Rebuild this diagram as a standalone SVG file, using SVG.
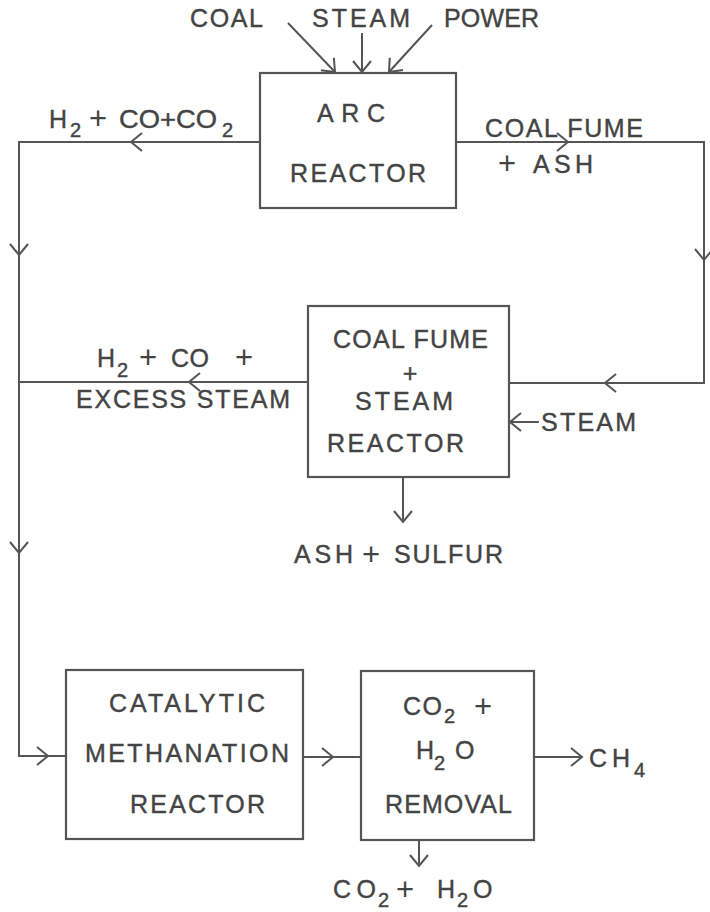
<svg xmlns="http://www.w3.org/2000/svg" xmlns:xlink="http://www.w3.org/1999/xlink" width="710" height="912" viewBox="0 0 710 912">
<style>
.box{fill:#fff;stroke:#555;stroke-width:2.2}
.ln{fill:none;stroke:#555;stroke-width:2}
.t{font-family:"Liberation Sans",Arial,sans-serif;font-size:25px;fill:#444;stroke:#444;stroke-width:0.4}
.s{font-family:"Liberation Sans",Arial,sans-serif;font-size:20px;fill:#444;stroke:#444;stroke-width:0.4}
.p{font-family:"Liberation Sans",Arial,sans-serif;font-size:31px;fill:#444}
</style>
<defs>
<path id="chev" d="M-11,-9 L0,0 L-11,9" fill="none" stroke="#555" stroke-width="2"/>
<marker id="ah" markerUnits="userSpaceOnUse" markerWidth="24" markerHeight="24" refX="12" refY="12" orient="auto" viewBox="0 0 24 24">
<path d="M1,3 L12,12 L1,21" fill="none" stroke="#555" stroke-width="2"/>
</marker>
</defs>
<rect width="710" height="912" fill="#fff"/>

<g id="connectors">
<line class="ln" x1="288" y1="23" x2="335" y2="72" marker-end="url(#ah)"/>
<line class="ln" x1="362" y1="33" x2="362" y2="72" marker-end="url(#ah)"/>
<line class="ln" x1="432" y1="25" x2="389" y2="72" marker-end="url(#ah)"/>
<polyline class="ln" points="260,142 19,142 19,756 66,756"/>
<polyline class="ln" points="456,142 704,142 704,383 509,383"/>
<line class="ln" x1="308" y1="382" x2="19" y2="382"/>
<line class="ln" x1="539" y1="422" x2="510" y2="422" marker-end="url(#ah)"/>
<line class="ln" x1="403" y1="477" x2="403" y2="522" marker-end="url(#ah)"/>
<line class="ln" x1="303" y1="757" x2="362" y2="757"/>
<line class="ln" x1="534" y1="757" x2="582" y2="757" marker-end="url(#ah)"/>
<line class="ln" x1="419" y1="840" x2="419" y2="866" marker-end="url(#ah)"/>
<use xlink:href="#chev" transform="translate(131,142) rotate(180)"/>
<use xlink:href="#chev" transform="translate(19,255) rotate(90)"/>
<use xlink:href="#chev" transform="translate(19,553) rotate(90)"/>
<use xlink:href="#chev" transform="translate(48,756)"/>
<use xlink:href="#chev" transform="translate(568,142)"/>
<use xlink:href="#chev" transform="translate(704,260) rotate(90)"/>
<use xlink:href="#chev" transform="translate(605,383) rotate(180)"/>
<use xlink:href="#chev" transform="translate(189,382) rotate(180)"/>
<use xlink:href="#chev" transform="translate(333,757)"/>
</g>

<g id="inputs">
<text class="t" x="190" y="27" textLength="73" lengthAdjust="spacing">COAL</text>
<text class="t" x="312" y="27" textLength="98" lengthAdjust="spacing">STEAM</text>
<text class="t" x="444" y="27" textLength="95" lengthAdjust="spacing">POWER</text>
</g>

<g id="arc-reactor">
<rect class="box" x="260" y="73" width="196" height="135"/>
<text class="t" x="317" y="122" textLength="68" lengthAdjust="spacing">ARC</text>
<text class="t" x="290" y="182" textLength="136" lengthAdjust="spacing">REACTOR</text>
</g>

<g id="label-h2-co-co2">
<text class="t" x="49" y="128">H</text>
<text class="s" x="70" y="137">2</text>
<text class="p" x="89" y="129">+</text>
<text class="t" x="119" y="128" textLength="98" lengthAdjust="spacingAndGlyphs">CO+CO</text>
<text class="s" x="222" y="137">2</text>
</g>

<g id="label-coal-fume-ash">
<text class="t" x="485" y="137" textLength="158" lengthAdjust="spacing">COAL FUME</text>
<text class="p" x="498" y="174">+</text>
<text class="t" x="533" y="173" textLength="60" lengthAdjust="spacing">ASH</text>
</g>

<g id="steam-reactor">
<rect class="box" x="308" y="306" width="201" height="171"/>
<text class="t" x="333" y="348" textLength="155" lengthAdjust="spacing">COAL FUME</text>
<text class="t" x="410" y="382" text-anchor="middle">+</text>
<text class="t" x="355" y="410" textLength="98" lengthAdjust="spacing">STEAM</text>
<text class="t" x="327" y="452" textLength="137" lengthAdjust="spacing">REACTOR</text>
</g>

<g id="label-h2-co-steam">
<text class="t" x="97" y="367">H</text>
<text class="s" x="117" y="377">2</text>
<text class="p" x="139" y="368">+</text>
<text class="t" x="171" y="367" textLength="38" lengthAdjust="spacing">CO</text>
<text class="p" x="235" y="368">+</text>
<text class="t" x="76" y="408" textLength="214" lengthAdjust="spacing">EXCESS STEAM</text>
</g>

<g id="label-steam-in">
<text class="t" x="541" y="431" textLength="95" lengthAdjust="spacing">STEAM</text>
</g>

<g id="label-ash-sulfur">
<text class="t" x="294" y="563" textLength="59" lengthAdjust="spacing">ASH</text>
<text class="p" x="362" y="565">+</text>
<text class="t" x="394" y="563" textLength="109" lengthAdjust="spacing">SULFUR</text>
</g>

<g id="methanation-reactor">
<rect class="box" x="66" y="670" width="237" height="169"/>
<text class="t" x="109" y="712" textLength="156" lengthAdjust="spacing">CATALYTIC</text>
<text class="t" x="85" y="762" textLength="204" lengthAdjust="spacing">METHANATION</text>
<text class="t" x="130" y="813" textLength="135" lengthAdjust="spacing">REACTOR</text>
</g>

<g id="removal">
<rect class="box" x="361" y="671" width="173" height="169"/>
<text class="t" x="403" y="715" textLength="39" lengthAdjust="spacing">CO</text>
<text class="s" x="444" y="723">2</text>
<text class="p" x="474" y="717">+</text>
<text class="t" x="416" y="759">H</text>
<text class="s" x="434" y="770">2</text>
<text class="t" x="455" y="759">O</text>
<text class="t" x="385" y="813" textLength="127" lengthAdjust="spacing">REMOVAL</text>
</g>

<g id="label-ch4">
<text class="t" x="589" y="767" textLength="41" lengthAdjust="spacing">CH</text>
<text class="s" x="634" y="777">4</text>
</g>

<g id="label-co2-h2o">
<text class="t" x="333" y="898" textLength="43" lengthAdjust="spacing">CO</text>
<text class="s" x="378" y="907">2</text>
<text class="p" x="396" y="900">+</text>
<text class="t" x="437" y="898">H</text>
<text class="s" x="457" y="907">2</text>
<text class="t" x="473" y="898">O</text>
</g>
</svg>
